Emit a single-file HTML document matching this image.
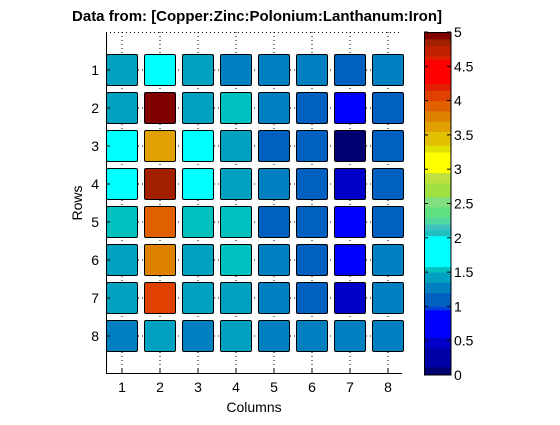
<!DOCTYPE html>
<html><head><meta charset="utf-8"><style>body{margin:0;background:#fff}svg{font-family:"Liberation Sans",sans-serif}</style></head>
<body>
<svg id="c" width="560" height="420">
<text x="257" y="21" text-anchor="middle" font-size="15" font-weight="bold">Data from: [Copper:Zinc:Polonium:Lanthanum:Iron]</text>
<text x="254" y="412" text-anchor="middle" font-size="14">Columns</text>
<text transform="translate(82,203) rotate(-90)" text-anchor="middle" font-size="14">Rows</text>
</svg>
<script>
const columns=[1,2,3,4,5,6,7,8];
const rows=[1,2,3,4,5,6,7,8];
const values=[
[1.4,1.8,1.4,1.25,1.25,1.25,1.1,1.25],
[1.4,4.95,1.4,1.55,1.25,1.1,0.75,1.1],
[1.8,3.6,1.8,1.4,1.1,1.1,0.05,1.1],
[1.8,4.85,1.8,1.4,1.25,1.1,0.45,1.1],
[1.55,3.9,1.55,1.55,1.1,1.1,0.75,1.1],
[1.4,3.75,1.4,1.55,1.25,1.1,0.75,1.25],
[1.4,4.1,1.4,1.4,1.25,1.1,0.45,1.25],
[1.25,1.4,1.25,1.4,1.25,1.25,1.25,1.25]];
const cbTicks=[0,0.5,1,1.5,2,2.5,3,3.5,4,4.5,5];
const bandStops=[0,0.12,0.4,0.55,0.95,1.0,1.2,1.35,1.5,1.58,2.03,2.12,2.2,2.3,2.45,2.6,2.8,2.95,3.25,3.35,3.55,3.7,3.85,4.0,4.15,4.25,4.6,4.65,4.8,4.9,5.0];
const bandColors=["#000070","#0000a8","#0000c8","#0000ff","#0040d8","#0060c0","#0080c0","#00a0c0","#00c0c0","#00ffff","#20c0c0","#40c0c0","#50d8a0","#60e080","#80e080","#a0e040","#c0e040","#ffff00","#e0e000","#e0c000","#e0a000","#e08000","#e06000","#e04000","#e02000","#ff0000","#e02000","#c02000","#a02000","#800000"];
const svg=document.getElementById('c');const NS='http://www.w3.org/2000/svg';
function mk(t,a,p){const e=document.createElementNS(NS,t);for(const k in a)e.setAttribute(k,a[k]);(p||svg).appendChild(e);return e;}
const X=c=>122+(c-1)*38, Y=r=>70+(r-1)*38;
const cbY=v=>375-v/5*343;
function color(v){for(let i=0;i<bandColors.length;i++){if(v<=bandStops[i+1])return bandColors[i];}return bandColors[bandColors.length-1];}
columns.forEach(c=>{const l=mk('line',{x1:X(c),x2:X(c),y1:32,y2:373,stroke:'#000','stroke-dasharray':'1,3','stroke-width':1});
});
rows.forEach(r=>{const l=mk('line',{x1:106,x2:402,y1:Y(r),y2:Y(r),stroke:'#000','stroke-dasharray':'1,3','stroke-width':1});
});
mk('line',{x1:106,x2:402,y1:32.5,y2:32.5,stroke:'#000','stroke-dasharray':'1,3'});
rows.forEach((r,ri)=>columns.forEach((c,ci)=>{const v=values[ri][ci];
const e=mk('rect',{x:X(c)-15.5,y:Y(r)-15.5,width:31,height:31,rx:1.5,fill:color(v),stroke:'#000','stroke-width':1});
}));
let a=mk('line',{x1:106.5,x2:106.5,y1:32,y2:374,stroke:'#000'});
a=mk('line',{x1:106,x2:402,y1:373.5,y2:373.5,stroke:'#000'});
columns.forEach(c=>{mk('line',{x1:X(c),x2:X(c),y1:373,y2:369,stroke:'#000'});
const t=mk('text',{x:X(c),y:392,'text-anchor':'middle','font-size':14});t.textContent=c;
});
rows.forEach(r=>{mk('line',{x1:106,x2:110,y1:Y(r),y2:Y(r),stroke:'#000'});
const t=mk('text',{x:99,y:Y(r)+5,'text-anchor':'end','font-size':14});t.textContent=r;
});
const g=mk('g',{});
bandColors.forEach((col,i)=>{mk('rect',{x:424,y:cbY(bandStops[i+1]),width:27,height:cbY(bandStops[i])-cbY(bandStops[i+1])+0.5,fill:col},g);});
mk('rect',{x:424.5,y:32.5,width:26.5,height:342.5,fill:'none',stroke:'#000'},g);
cbTicks.forEach(v=>{mk('line',{x1:447,x2:451,y1:cbY(v),y2:cbY(v),stroke:'#000'},g);mk('line',{x1:424,x2:428,y1:cbY(v),y2:cbY(v),stroke:'#000'},g);
const t=mk('text',{x:454,y:cbY(v)+5,'font-size':14},g);t.textContent=v;
});
</script>
</body></html>
